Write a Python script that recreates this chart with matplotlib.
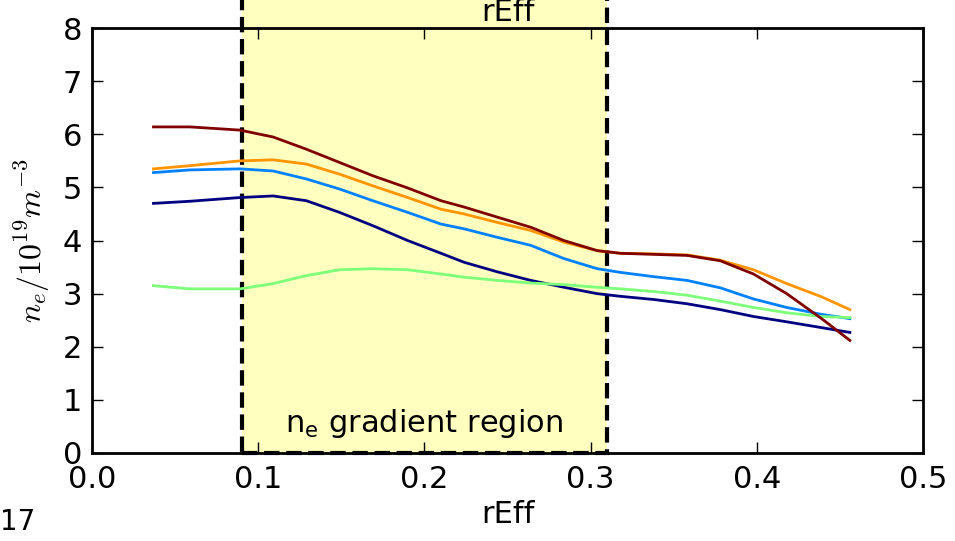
import numpy as np
import matplotlib
matplotlib.use('Agg')
import matplotlib.pyplot as plt
import matplotlib.patches as mpatches

# radial positions (rEff) and density profiles (1e19 m^-3)
rEff = [0.037, 0.059, 0.089, 0.109, 0.129, 0.149, 0.169, 0.190, 0.210, 0.224, 0.244,
        0.264, 0.284, 0.304, 0.318, 0.338, 0.358, 0.378, 0.398, 0.418, 0.439, 0.456]

neNavy   = [4.70, 4.74, 4.81, 4.84, 4.75, 4.53, 4.28, 4.00, 3.76, 3.59, 3.41,
            3.25, 3.12, 3.00, 2.95, 2.89, 2.81, 2.70, 2.57, 2.47, 2.36, 2.27]
neBlue   = [5.28, 5.33, 5.35, 5.31, 5.16, 4.97, 4.75, 4.53, 4.31, 4.22, 4.06,
            3.91, 3.66, 3.47, 3.40, 3.32, 3.25, 3.11, 2.90, 2.74, 2.61, 2.53]
neGreen  = [3.15, 3.09, 3.09, 3.19, 3.34, 3.45, 3.47, 3.45, 3.37, 3.31, 3.25,
            3.20, 3.17, 3.12, 3.09, 3.04, 2.97, 2.86, 2.74, 2.64, 2.57, 2.55]
neOrange = [5.35, 5.41, 5.50, 5.52, 5.44, 5.25, 5.03, 4.81, 4.59, 4.50, 4.34,
            4.19, 3.97, 3.81, 3.76, 3.75, 3.73, 3.63, 3.45, 3.19, 2.94, 2.70]
neRed    = [6.14, 6.14, 6.08, 5.95, 5.72, 5.47, 5.22, 4.99, 4.75, 4.63, 4.44,
            4.25, 4.00, 3.81, 3.76, 3.74, 3.72, 3.62, 3.37, 3.00, 2.53, 2.12]

profiles = [neNavy, neBlue, neGreen, neOrange, neRed]
gradStart, gradEnd = 0.09, 0.31

my_dpi = 100
fig = plt.figure(figsize=(955/my_dpi, 541/my_dpi), dpi=my_dpi)
ax1 = fig.add_axes([0.0963, 0.1627, 0.8702, 0.7853])

colors = plt.cm.jet(np.linspace(0, 1, len(profiles)))

# gradient region box (extends above the axes)
box = mpatches.Rectangle((gradStart, 0), gradEnd - gradStart, 12,
                         facecolor='#ffffbf', edgecolor='black',
                         linestyle='--', linewidth=3, clip_on=False, zorder=0)
ax1.add_patch(box)

for ne, c in zip(profiles, colors):
    ax1.plot(rEff, ne, color=c, linewidth=2, solid_joinstyle='round', zorder=3)

ax1.set_xlim(0, 0.5)
ax1.set_ylim(0, 8)
ax1.set_xticks([0.0, 0.1, 0.2, 0.3, 0.4, 0.5])
ax1.set_yticks(range(0, 9))
ax1.tick_params(direction='in', length=8, width=1, top=True, right=True,
                labelsize=22, pad=7)
ax1.tick_params(axis='x', pad=9)
for sp in ax1.spines.values():
    sp.set_linewidth(2)
    sp.set_zorder(5)
ax1.set_facecolor('none')

ax1.set_xlabel('rEff', fontsize=22, labelpad=4)
ax1.set_ylabel(r'$n_e/10^{19}m^{-3}$', fontsize=23, math_fontfamily='cm', labelpad=8)
ax1.text(0.5, 1.003, 'rEff', transform=ax1.transAxes, ha='center', va='bottom',
         fontsize=22, zorder=10)
ax1.text(0.2, 0.39, r'n$_\mathrm{e}$ gradient region', ha='center', va='baseline',
         fontsize=22, math_fontfamily='dejavusans', zorder=10)
fig.text(0.0, 0.02, '17', ha='left', va='baseline', fontsize=20)

fig.savefig('out.png', dpi=my_dpi)
